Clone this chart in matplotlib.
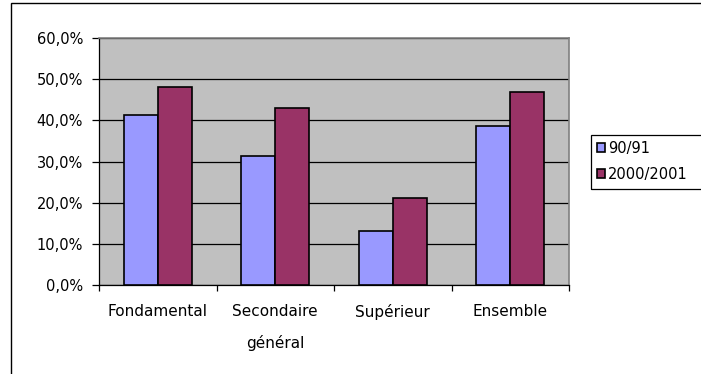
import numpy as np
import matplotlib.pyplot as plt
from matplotlib.ticker import FuncFormatter, FixedLocator

plt.rcParams['font.family'] = ['DejaVu Sans']

categories = ["Fondamental", "Secondaire\ngénéral", "Supérieur", "Ensemble"]
series_names = ["90/91", "2000/2001"]
v_9091 = [41.4, 31.3, 13.1, 38.6]
v_2000 = [48.2, 43.0, 21.2, 46.8]
colors = ["#9999FF", "#993366"]

W, H = 701, 374
fig = plt.figure(figsize=(W / 100, H / 100), dpi=100)

# cadre extérieur
fig.patches.append(plt.Rectangle((11 / W, -0.05), 1.2, 1 - 3 / H + 0.05,
                                 transform=fig.transFigure, fill=False,
                                 edgecolor='black', linewidth=1.0))

ax = fig.add_axes([99 / W, 1 - 285 / H, 470 / W, 247 / H])
ax.set_facecolor('#C0C0C0')

x = np.arange(len(categories))
bw = 0.29
b1 = ax.bar(x - bw / 2, v_9091, bw, color=colors[0], edgecolor='black',
            linewidth=1.2, label=series_names[0], zorder=3)
b2 = ax.bar(x + bw / 2, v_2000, bw, color=colors[1], edgecolor='black',
            linewidth=1.2, label=series_names[1], zorder=3)

ax.set_xlim(-0.5, len(categories) - 0.5)
ax.set_ylim(0, 60)
ax.set_yticks(np.arange(0, 61, 10))
ax.yaxis.set_major_formatter(FuncFormatter(lambda v, p: f"{v:.1f}%".replace('.', ',')))
ax.grid(axis='y', color='black', linewidth=0.9, zorder=1)

ax.set_xticks(x)
ax.set_xticklabels(categories, linespacing=2.2, va='top', fontsize=11)
ax.xaxis.set_minor_locator(FixedLocator(np.arange(-0.5, len(categories), 1.0)))
ax.tick_params(axis='x', which='major', length=0, pad=14)
ax.tick_params(axis='x', which='minor', length=4.5, width=0.9, direction='out')
ax.tick_params(axis='y', length=5, width=0.9, direction='out', pad=6.5,
               labelsize=10.5)

for s in ['top', 'right']:
    ax.spines[s].set_color('#808080')
    ax.spines[s].set_linewidth(1.2)
for s in ['left', 'bottom']:
    ax.spines[s].set_color('black')
    ax.spines[s].set_linewidth(0.9)

# légende
fig.patches.append(plt.Rectangle((591 / W, 1 - 189 / H), 0.3, 54 / H,
                                 transform=fig.transFigure, fill=False,
                                 edgecolor='black', linewidth=0.9))
fig.legend(handles=[b1, b2], loc='center left',
           bbox_to_anchor=(597 / W, 1 - 161.5 / H), fontsize=10.5,
           frameon=False, handlelength=0.55, handleheight=0.55,
           handletextpad=0.2, borderpad=0, labelspacing=0.75,
           borderaxespad=0)

fig.savefig("out.png", dpi=100)
